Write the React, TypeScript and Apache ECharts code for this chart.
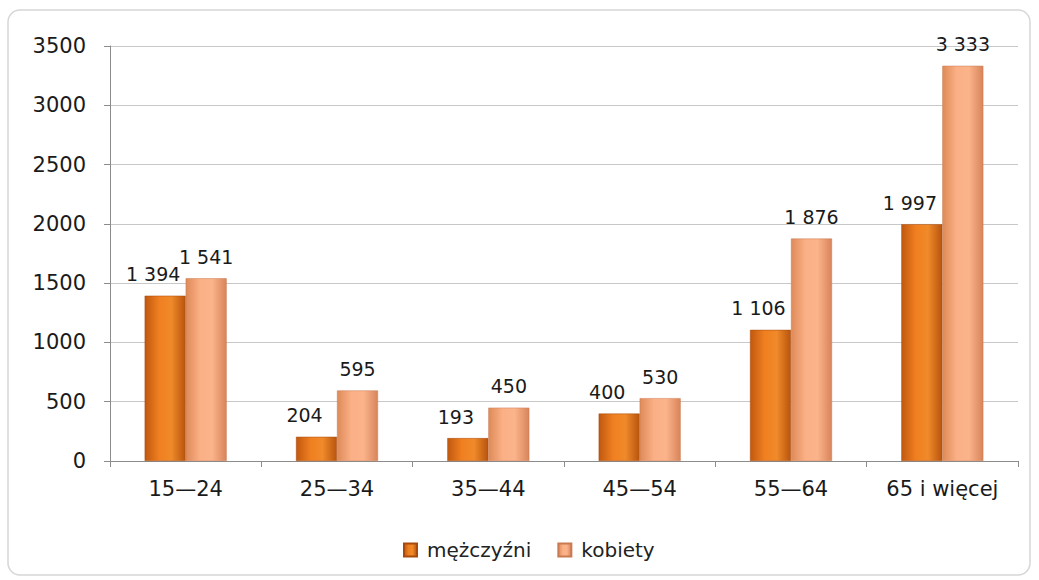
import React, { useEffect, useRef } from "react";
import * as echarts from "echarts";

const categories = ["15—24", "25—34", "35—44", "45—54", "55—64", "65 i więcej"];
const menValues = [1394, 204, 193, 400, 1106, 1997];
const womenValues = [1541, 595, 450, 530, 1876, 3333];
const seriesNames = ["mężczyźni", "kobiety"];
const yTicks = { min: 0, max: 3500, interval: 500 };

const fmt = (v: number) => {
  const s = String(v);
  return s.length > 3 ? s.slice(0, s.length - 3) + " " + s.slice(-3) : s;
};

const FONT = "'DejaVu Sans', 'Noto Sans', sans-serif";

export default function App() {
  const ref = useRef<HTMLDivElement>(null);
  useEffect(() => {
    if (!ref.current) return;
    const chart = echarts.init(ref.current, undefined, { renderer: "svg" });
    const menColor = new echarts.graphic.LinearGradient(0, 0, 1, 0, [
      { offset: 0, color: "#c0580f" },
      { offset: 0.35, color: "#f07f20" },
      { offset: 0.65, color: "#f08a2a" },
      { offset: 1, color: "#b8540e" },
    ]);
    const womenColor = new echarts.graphic.LinearGradient(0, 0, 1, 0, [
      { offset: 0, color: "#de8a58" },
      { offset: 0.35, color: "#fbb086" },
      { offset: 0.65, color: "#fbb38a" },
      { offset: 1, color: "#d8845a" },
    ]);
    const labelBase = {
      show: true,
      position: "top" as const,
      distance: 12,
      fontSize: 19,
      fontFamily: FONT,
      color: "#1a1a1a",
      formatter: (p: any) => fmt(p.value),
    };
    chart.setOption({
      animation: false,
      backgroundColor: "#ffffff",
      graphic: [
        {
          type: "rect",
          shape: { x: 8, y: 10, width: 1022, height: 565, r: 12 },
          style: { fill: "none", stroke: "#d6d6d6", lineWidth: 1.5 },
          silent: true,
          z: -1,
        },
      ],
      grid: { left: 110, right: 21, top: 46, bottom: 119, containLabel: false },
      legend: {
        bottom: 15,
        left: 398,
        itemWidth: 13,
        itemHeight: 13,
        itemGap: 26,
        icon: "rect",
        textStyle: { fontSize: 20, fontFamily: FONT, color: "#222", padding: [0, 0, 0, 5] },
        data: seriesNames,
      },
      xAxis: {
        type: "category",
        data: categories,
        boundaryGap: true,
        axisLine: { lineStyle: { color: "#8c8c8c", width: 1 } },
        axisTick: { show: true, length: 6, lineStyle: { color: "#8c8c8c" } },
        axisLabel: { fontSize: 21, fontFamily: FONT, color: "#1a1a1a", margin: 17 },
      },
      yAxis: {
        type: "value",
        min: yTicks.min,
        max: yTicks.max,
        interval: yTicks.interval,
        axisLine: { show: true, lineStyle: { color: "#8c8c8c", width: 1 } },
        axisTick: { show: true, length: 6, lineStyle: { color: "#8c8c8c" } },
        axisLabel: {
          fontSize: 21,
          fontFamily: FONT,
          color: "#1a1a1a",
          margin: 24,
          formatter: (v: number) => String(v),
        },
        splitLine: { lineStyle: { color: "#c8c8c8", width: 1 } },
      },
      series: [
        {
          name: seriesNames[0],
          type: "bar",
          data: menValues,
          barWidth: 41,
          barGap: "0%",
          itemStyle: { color: menColor, borderColor: "#a84a0c", borderWidth: 0.5 },
          label: { ...labelBase, offset: [-12, 0] },
        },
        {
          name: seriesNames[1],
          type: "bar",
          data: womenValues,
          barWidth: 41,
          barGap: "0%",
          itemStyle: { color: womenColor, borderColor: "#c87a50", borderWidth: 0.5 },
          label: labelBase,
        },
      ],
    });
    return () => chart.dispose();
  }, []);
  return (
    <div
      ref={ref}
      style={{ position: "fixed", left: 0, top: 0, width: 1039, height: 580 }}
    />
  );
}
